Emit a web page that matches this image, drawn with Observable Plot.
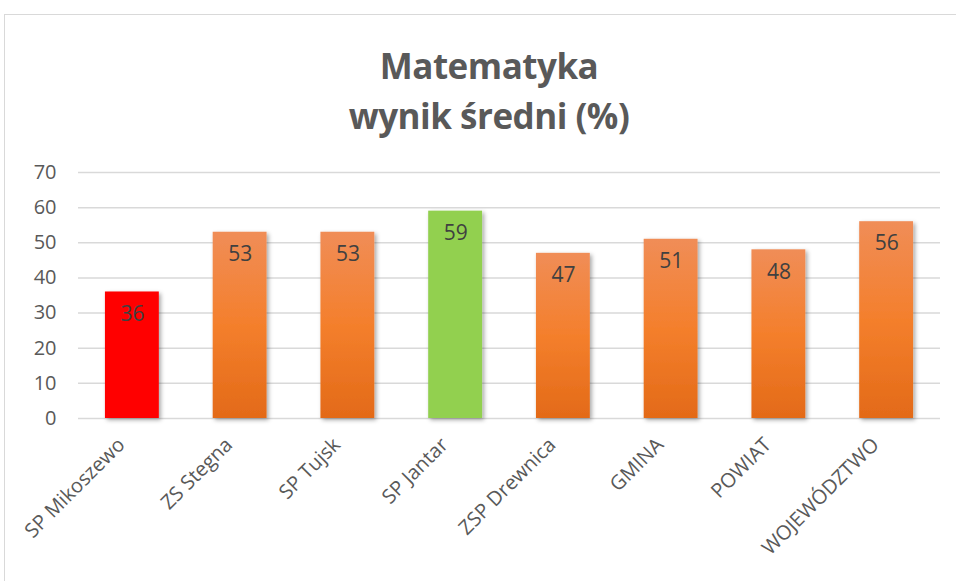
<!DOCTYPE html>
<html>
<head>
<meta charset="utf-8">
<script src="https://cdn.jsdelivr.net/npm/d3@7"></script>
<script src="https://cdn.jsdelivr.net/npm/@observablehq/plot@0.6"></script>
<style>
  html, body { margin: 0; padding: 0; background: #fff; overflow: hidden; width: 956px; height: 581px; }
  #card { position: absolute; left: 4px; top: 14px; width: 1000px; height: 700px; border: 1.5px solid #d9d9d9; box-sizing: border-box; }
  #title { position: absolute; left: 0; top: 41px; width: 978px; text-align: center; font-family: "Open Sans", sans-serif; font-weight: bold; font-size: 35px; line-height: 50px; color: #595959; letter-spacing: -0.5px; }
  #chart { position: absolute; left: 0; top: 150px; }
</style>
</head>
<body>
<div id="card"></div>
<div id="title">Matematyka<br>wynik średni (%)</div>
<div id="chart"></div>
<script>
const categories = ["SP Mikoszewo", "ZS Stegna", "SP Tujsk", "SP Jantar", "ZSP Drewnica", "GMINA", "POWIAT", "WOJEWÓDZTWO"];
const values = [36, 53, 53, 59, 47, 51, 48, 56];
const yTicks = [0, 10, 20, 30, 40, 50, 60, 70];
const lowest = "SP Mikoszewo";
const highest = "SP Jantar";

const data = categories.map((name, i) => ({name, value: values[i]}));

const defs = () => {
  const g = document.createElementNS("http://www.w3.org/2000/svg", "defs");
  g.innerHTML = `
    <linearGradient id="og" x1="0" y1="0" x2="0" y2="1">
      <stop offset="0%" stop-color="#F08D57"/>
      <stop offset="50%" stop-color="#F47F2C"/>
      <stop offset="100%" stop-color="#E36A18"/>
    </linearGradient>
    <filter id="sh" x="-20%" y="-20%" width="150%" height="150%">
      <feDropShadow dx="2" dy="2" stdDeviation="2" flood-color="#000" flood-opacity="0.35"/>
    </filter>`;
  return g;
};

const plot = Plot.plot({
  width: 956,
  height: 431,
  marginTop: 22,
  marginBottom: 163,
  marginLeft: 78,
  marginRight: 16,
  style: {fontFamily: "Open Sans, sans-serif", fontSize: "21px", color: "#595959", background: "transparent"},
  x: {domain: categories, paddingInner: 0.5, paddingOuter: 0.25, round: false, label: null},
  y: {domain: [0, 70], label: null},
  marks: [
    defs,
    Plot.gridY(yTicks, {stroke: "#d9d9d9", strokeOpacity: 1, strokeWidth: 1.5}),
    Plot.barY(data, {filter: d => d.name !== lowest && d.name !== highest, x: "name", y: "value", fill: "url(#og)"}),
    Plot.barY(data, {filter: d => d.name === lowest, x: "name", y: "value", fill: "#FF0000"}),
    Plot.barY(data, {filter: d => d.name === highest, x: "name", y: "value", fill: "#92D050"}),
    Plot.text(data, {x: "name", y: "value", text: d => String(d.value), dy: 22, fontSize: 21, fill: "#404040"}),
    Plot.axisY(yTicks, {tickSize: 0, tickPadding: 22, fontSize: 20, fill: "#595959"}),
    Plot.axisX({tickSize: 0, tickPadding: 18, tickRotate: -45, fontSize: 20, fill: "#595959"})
  ]
});

plot.querySelectorAll('g[aria-label="bar"]').forEach(g => g.setAttribute("filter", "url(#sh)"));
const xl = plot.querySelector('g[aria-label="x-axis tick label"]');
if (xl) {
  const t = xl.getAttribute("transform") || "";
  xl.setAttribute("transform", "translate(-11,5) " + t);
}
document.getElementById("chart").appendChild(plot);
</script>
</body>
</html>
